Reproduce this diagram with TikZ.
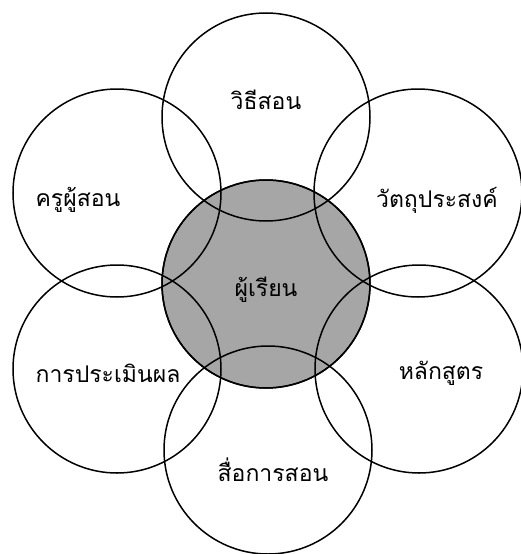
\documentclass[tikz,border=0pt]{standalone}
\usepackage{fontspec}
\newfontfamily\thaifont[Script=Thai]{Loma}
\begin{document}
\begin{tikzpicture}[x=1pt,y=-1pt,
  ring/.style={circle,draw=black,line width=1.5pt,minimum size=208pt,inner sep=0pt},
  lbl/.style={font=\thaifont\fontsize{23}{26}\selectfont,inner sep=0pt}]
\useasboundingbox (0,0) rectangle (521,554);
\node[ring,fill={rgb,255:red,166;green,166;blue,166}] (c) at (266,284) {};
\node[ring] (t) at (266,117) {};
\node[ring] (tl) at (117,193) {};
\node[ring] (tr) at (418,193) {};
\node[ring] (bl) at (117,369) {};
\node[ring] (br) at (419,369) {};
\node[ring] (b) at (268,450) {};
\node[ring,fill=none] (c2) at (266,284) {};
\node[lbl] (lt) at (266,100) {วิธีสอน};
\node[lbl] (ltl) at (78,200) {ครูผู้สอน};
\node[lbl] (ltr) at (437,200) {วัตถุประสงค์};
\node[lbl] (lc) at (266,290) {ผู้เรียน};
\node[lbl] (lbl1) at (108,373) {การประเมินผล};
\node[lbl] (lbr) at (441,373) {หลักสูตร};
\node[lbl] (lb) at (273,470) {สื่อการสอน};
\end{tikzpicture}
\end{document}
